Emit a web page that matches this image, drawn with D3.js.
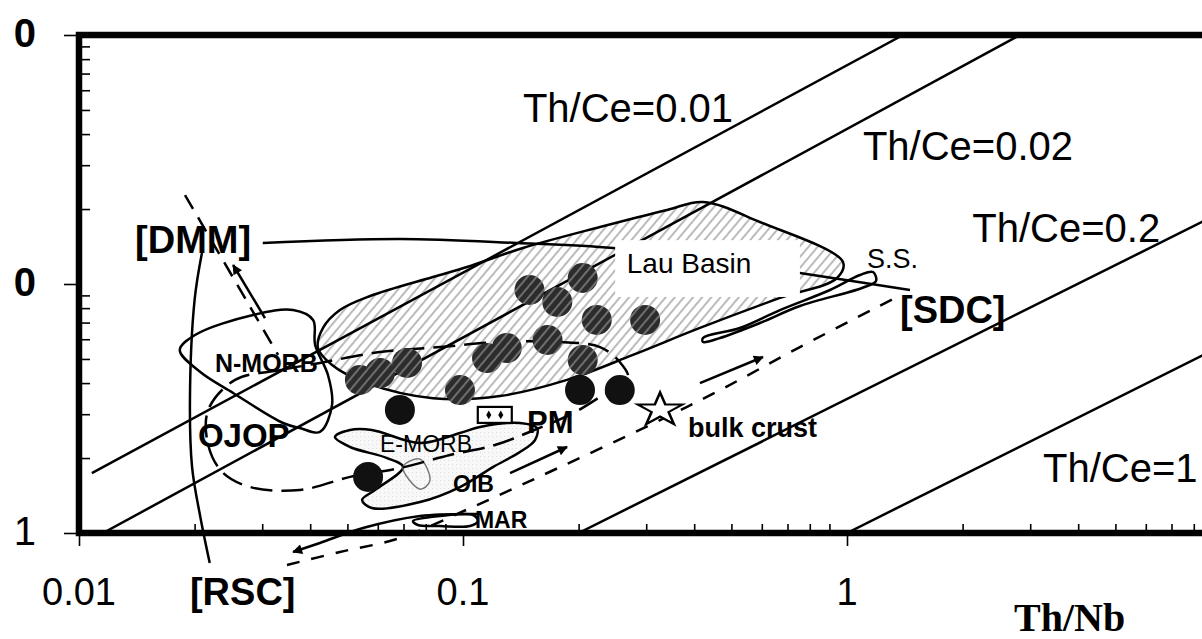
<!DOCTYPE html>
<html>
<head>
<meta charset="utf-8">
<script src="https://cdn.jsdelivr.net/npm/d3@7"></script>
<style>
  body { margin: 0; background: #fff; }
  svg { display: block; }
  text { font-family: "Liberation Sans", Arial, sans-serif; fill: #000; }
  text.title { font-family: "Liberation Serif", "Times New Roman", serif; }
</style>
</head>
<body>
<div id="chart"></div>
<script>
const W = 1202, H = 639;

// axis ticks (y labels are cut at the left edge of the figure, only last digit shows)
const xTicks = [0.01, 0.1, 1];
const xTickLabels = ["0.01", "0.1", "1"];
const yTicks = [1, 10, 100];
const yTickLabels = ["1", "0", "0"];

// Th/Ce reference lines, [Th/Nb, y] end points
const thCeLines = [
  [[0.0108, 1.74], [1.40, 100]],
  [[0.01155, 1], [2.82, 100]],
  [[0.2, 1], [10, 20.3]],
  [[1, 1], [10, 5.9]]
];

// fields
const lauBasin = [[0.0419,5.53],[0.0432,6.66],[0.0478,7.86],[0.0573,8.95],[0.0835,10.67],[0.1024,11.7],
  [0.1432,13.95],[0.2274,16.94],[0.340,19.83],[0.4217,21.35],[0.593,17.74],[0.976,12.25],[0.942,10.57],
  [0.669,8.79],[0.414,6.66],[0.277,5.19],[0.1866,4.12],[0.1248,3.55],[0.0835,3.48],[0.0562,4.00],[0.0456,4.73]];
const nMorb = [[0.0183,5.43],[0.02005,6.24],[0.0284,7.51],[0.0361,7.86],[0.0407,7.17],[0.0412,5.69],
  [0.0445,4.31],[0.0456,3.27],[0.0424,2.545],[0.0376,2.64],[0.034,2.765],[0.0252,3.65],[0.0207,4.43]];
const eMorbOib = [[0.0464,2.43],[0.0508,2.593],[0.0579,2.593],[0.0773,2.298],[0.0982,2.52],[0.1107,2.666],
  [0.1407,2.765],[0.1558,2.64],[0.154,2.363],[0.1407,2.115],[0.1197,1.84],[0.0982,1.53],[0.0773,1.332],
  [0.0579,1.26],[0.0546,1.357],[0.059,1.488],[0.0698,1.84],[0.0634,2.0],[0.0508,2.215]];
const eMorbInner = [[0.0698,1.84],[0.0773,1.5],[0.0820,1.62],[0.0773,1.98]];
const mar = [[0.0741,1.117],[0.0871,1.17],[0.1062,1.181],[0.1094,1.117],[0.1043,1.067],[0.0871,1.067],[0.0763,1.077]];
const ssField = [[0.4217,6.07],[0.526,6.66],[0.669,7.86],[0.903,9.46],[1.081,10.87],[1.169,11.17],
  [1.19,10.28],[1.094,9.64],[0.754,8.16],[0.593,6.97],[0.467,6.07],[0.4217,5.85]];

// mixing curves
const dmmSdc = [[0.0301,14.61],[0.0685,15.16],[0.1382,14.61],[0.2458,13.95],[0.414,12.72],[0.754,11.07],[1.459,9.46]];
const rscDmm = [[0.0209,13.32],[0.02,8.63],[0.01945,3.42],[0.0197,1.84],[0.0207,1.16],[0.0219,0.758]];
const dashDmm = [[0.01888,22.77],[0.033,5.19]];
const dashLoop = [[0.0255,4.12],[0.0334,4.51],[0.0424,4.82],[0.0608,5.33],[0.0871,5.58],[0.1248,5.85],
  [0.179,5.85],[0.2274,5.58],[0.256,4.86],[0.269,4.19],[0.2274,3.52],[0.1934,3.03],[0.149,2.545],
  [0.1211,2.256],[0.0925,2.057],[0.0685,1.824],[0.0508,1.68],[0.0376,1.488],[0.0279,1.53],
  [0.0236,1.758],[0.0217,2.256],[0.0217,3.12]];
const dashRscSdc = [[0.0348,0.744],[0.0478,0.839],[0.0685,0.955],[0.1088,1.295],[0.179,1.84],
  [0.307,2.715],[0.467,3.75],[0.754,5.58],[1.349,8.87]];

// arrows
const arrows = [
  [[0.0305,7.30],[0.0252,11.92]],
  [[0.1326,1.74],[0.1866,2.215]],
  [[0.414,4.00],[0.604,5.09]],
  [[0.1088,1.192],[0.0773,1.17],[0.0549,1.047],[0.0424,0.912],[0.0361,0.839]]
];

// samples
const samplesLau = [[0.205,10.57],[0.149,9.46],[0.176,8.47],[0.223,7.17],[0.298,7.17],[0.166,5.96],
  [0.1155,5.04],[0.130,5.53],[0.205,4.95],[0.0715,4.82],[0.0608,4.39],[0.0539,4.12],[0.0982,3.75]];
const samplesOther = [[0.2017,3.75],[0.256,3.75],[0.0685,3.12],[0.0566,1.68]];
const bulkCrust = [0.326, 3.12];
const pm = [0.121, 2.98];

// annotations [text, Th/Nb, y, kind]
const notes = [
  ["Th/Ce=0.01", 0.1432, 44.7, "ce"],
  ["Th/Ce=0.02", 1.10, 31.5, "ce"],
  ["Th/Ce=0.2", 2.12, 14.75, "ce"],
  ["Th/Ce=1", 3.24, 1.60, "ce"],
  ["[DMM]", 0.014, 13.3, "end"],
  ["[RSC]", 0.01945, 0.514, "end"],
  ["[SDC]", 1.374, 6.97, "end"],
  ["S.S.", 1.127, 11.6, "ss"],
  ["Lau Basin", 0.267, 11.07, "lau"],
  ["N-MORB", 0.0226, 4.43, "nm"],
  ["OJOP", 0.0204, 2.22, "ojop"],
  ["E-MORB", 0.0608, 2.11, "em"],
  ["OIB", 0.0942, 1.46, "sm"],
  ["MAR", 0.1074, 1.047, "sm"],
  ["PM", 0.1468, 2.52, "pm"],
  ["bulk crust", 0.3855, 2.43, "bc"]
];
const lauBox = [[0.249, 15.0], [0.754, 8.87]];

const x = d3.scaleLog().domain([0.01, 10]).range([79, 1231]);
const y = d3.scaleLog().domain([1, 100]).range([533, 35]);

const svg = d3.select("#chart").append("svg")
  .attr("width", W).attr("height", H)
  .attr("viewBox", `0 0 ${W} ${H}`);

const defs = svg.append("defs");
const hatch = defs.append("pattern").attr("id", "hatch")
  .attr("patternUnits", "userSpaceOnUse").attr("width", 7).attr("height", 7)
  .attr("patternTransform", "rotate(40)");
hatch.append("rect").attr("width", 7).attr("height", 7).attr("fill", "#fff");
hatch.append("line").attr("x1", 1).attr("x2", 1).attr("y1", 0).attr("y2", 7)
  .attr("stroke", "#b4b4b4").attr("stroke-width", 1.8);
const hatchDark = defs.append("pattern").attr("id", "hatchDark")
  .attr("patternUnits", "userSpaceOnUse").attr("width", 7).attr("height", 7)
  .attr("patternTransform", "rotate(40)");
hatchDark.append("rect").attr("width", 7).attr("height", 7).attr("fill", "#2c2c2c");
hatchDark.append("line").attr("x1", 1).attr("x2", 1).attr("y1", 0).attr("y2", 7)
  .attr("stroke", "#6e6e6e").attr("stroke-width", 2);
const dots = defs.append("pattern").attr("id", "dots")
  .attr("patternUnits", "userSpaceOnUse").attr("width", 4).attr("height", 4);
dots.append("rect").attr("width", 4).attr("height", 4).attr("fill", "#f8f8f8");
dots.append("rect").attr("width", 1).attr("height", 1).attr("fill", "#dedede");

defs.append("marker").attr("id", "arrow")
  .attr("viewBox", "0 0 10 10").attr("refX", 9).attr("refY", 5)
  .attr("markerUnits", "userSpaceOnUse").attr("markerWidth", 15).attr("markerHeight", 10)
  .attr("orient", "auto")
  .append("path").attr("d", "M0,0 L10,5 L0,10 z").attr("fill", "#000");

defs.append("clipPath").attr("id", "plot")
  .append("rect").attr("x", 79).attr("y", 35).attr("width", W - 79).attr("height", 498);

const px = d => x(d[0]), py = d => y(d[1]);
const straight = d3.line().x(px).y(py);
const smooth = d3.line().x(px).y(py).curve(d3.curveCatmullRom.alpha(0.5));
const closed = d3.line().x(px).y(py).curve(d3.curveCatmullRomClosed.alpha(0.5));

const g = svg.append("g").attr("fill", "none").attr("stroke", "#000").attr("stroke-width", 2.5)
  .attr("stroke-linejoin", "round");

// fields
g.append("path").attr("d", closed(lauBasin)).attr("fill", "url(#hatch)");
g.append("path").attr("d", closed(eMorbOib)).attr("fill", "url(#dots)");
g.append("path").attr("d", closed(eMorbInner)).attr("stroke", "#777").attr("stroke-width", 1.5);

// Th/Ce lines
g.append("g").attr("clip-path", "url(#plot)")
  .selectAll("path").data(thCeLines).join("path").attr("d", straight);

g.append("path").attr("d", smooth(dmmSdc));
g.append("path").attr("d", smooth(rscDmm));
g.append("path").attr("d", closed(nMorb));
g.append("path").attr("d", closed(mar));
g.append("path").attr("d", closed(ssField));

// dashed lines
g.append("path").attr("d", straight(dashDmm)).attr("stroke-dasharray", "16,10");
g.append("path").attr("d", closed(dashLoop)).attr("stroke-dasharray", "22,9");
g.append("path").attr("d", smooth(dashRscSdc)).attr("stroke-dasharray", "13,12");

// arrows
g.selectAll("path.arrow").data(arrows).join("path").attr("class", "arrow")
  .attr("d", smooth).attr("marker-end", "url(#arrow)");

// samples
svg.append("g").selectAll("circle").data(samplesLau).join("circle")
  .attr("cx", px).attr("cy", py).attr("r", 15).attr("fill", "url(#hatchDark)");
svg.append("g").selectAll("circle").data(samplesOther).join("circle")
  .attr("cx", px).attr("cy", py).attr("r", 15).attr("fill", "#111");

// bulk crust star
svg.append("path")
  .attr("d", d3.symbol(d3.symbolStar).size(340)())
  .attr("transform", `translate(${x(bulkCrust[0])},${y(bulkCrust[1])}) scale(1.35,1)`)
  .attr("fill", "#fff").attr("stroke", "#000").attr("stroke-width", 2);

// PM box
const pmG = svg.append("g").attr("transform", `translate(${x(pm[0])},${y(pm[1])})`);
pmG.append("rect").attr("x", -17).attr("y", -8).attr("width", 34).attr("height", 16)
  .attr("fill", "#fff").attr("stroke", "#000").attr("stroke-width", 2.2);
pmG.selectAll("path").data([-6, 6]).join("path")
  .attr("d", d3.symbol(d3.symbolDiamond).size(22)())
  .attr("transform", d => `translate(${d},0)`).attr("fill", "#000");

// Lau Basin label box
svg.append("rect")
  .attr("x", x(lauBox[0][0])).attr("y", y(lauBox[0][1]))
  .attr("width", x(lauBox[1][0]) - x(lauBox[0][0]))
  .attr("height", y(lauBox[1][1]) - y(lauBox[0][1]))
  .attr("fill", "#fff");

const style = {
  ce:   {size: 40, weight: "normal"},
  end:  {size: 38, weight: "bold"},
  ss:   {size: 27, weight: "normal"},
  lau:  {size: 28, weight: "normal"},
  nm:   {size: 25, weight: "bold"},
  ojop: {size: 33, weight: "bold"},
  em:   {size: 23, weight: "normal"},
  sm:   {size: 23, weight: "bold"},
  pm:   {size: 31, weight: "bold"},
  bc:   {size: 27, weight: "bold"}
};
svg.append("g").selectAll("text").data(notes).join("text")
  .attr("x", d => x(d[1])).attr("y", d => y(d[2]))
  .attr("font-size", d => style[d[3]].size)
  .attr("font-weight", d => style[d[3]].weight)
  .attr("fill", d => d[3] === "em" ? "#222" : "#000")
  .text(d => d[0]);

// frame and ticks
const minorX = x.ticks().filter(v => !xTicks.includes(v) && v < 9.5);
const minorY = y.ticks().filter(v => !yTicks.includes(v));

svg.append("g").attr("transform", "translate(0,533)")
  .call(d3.axisBottom(x).tickValues(minorX).tickSize(-9).tickFormat("").tickSizeOuter(0))
  .call(a => a.select(".domain").remove())
  .call(a => a.selectAll("line").attr("stroke-width", 1.6));
svg.append("g").attr("transform", "translate(0,533)")
  .call(d3.axisBottom(x).tickValues(xTicks).tickSize(13).tickFormat("").tickSizeOuter(0))
  .call(a => a.select(".domain").remove())
  .call(a => a.selectAll("line").attr("stroke-width", 1.6));
svg.append("g").attr("transform", "translate(79,0)")
  .call(d3.axisLeft(y).tickValues(minorY).tickSize(-11).tickFormat("").tickSizeOuter(0))
  .call(a => a.select(".domain").remove())
  .call(a => a.selectAll("line").attr("stroke-width", 1.6));
svg.append("g").attr("transform", "translate(79,0)")
  .call(d3.axisLeft(y).tickValues(yTicks).tickSize(15).tickFormat("").tickSizeOuter(0))
  .call(a => a.select(".domain").remove())
  .call(a => a.selectAll("line").attr("stroke-width", 1.6));

svg.append("path")
  .attr("d", `M${W + 10},${y(100)} H${x(0.01)} V${y(1)} H${W + 10}`)
  .attr("fill", "none").attr("stroke", "#000").attr("stroke-width", 6.5)
  .attr("stroke-linejoin", "miter");

svg.append("g").selectAll("text").data(xTicks).join("text")
  .attr("x", d => x(d)).attr("y", 605)
  .attr("text-anchor", "middle").attr("font-size", 38)
  .text((d, i) => xTickLabels[i]);
svg.append("g").selectAll("text").data(yTicks).join("text")
  .attr("x", 36).attr("y", d => y(d) + 12)
  .attr("text-anchor", "end").attr("font-size", 40)
  .attr("font-weight", (d, i) => yTickLabels[i] === "0" ? "bold" : "normal")
  .text((d, i) => yTickLabels[i]);

svg.append("text").attr("class", "title")
  .attr("x", 1014).attr("y", 631)
  .attr("font-weight", "bold").attr("font-size", 40)
  .text("Th/Nb");
</script>
</body>
</html>
